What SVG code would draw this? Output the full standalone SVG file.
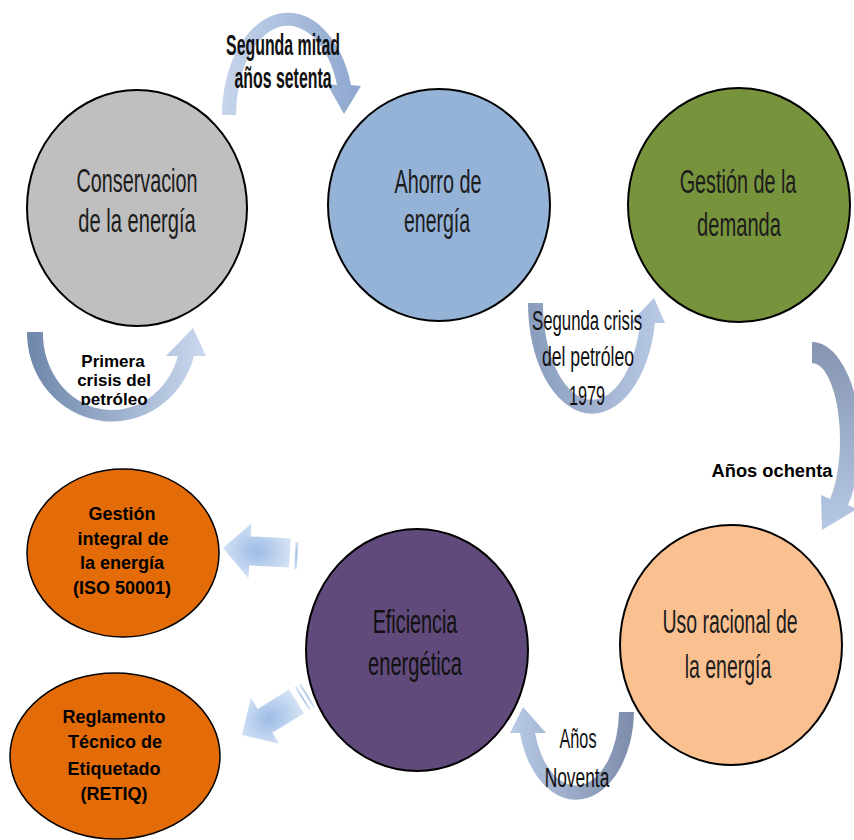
<svg xmlns="http://www.w3.org/2000/svg" width="854" height="840" viewBox="0 0 854 840">
<style>
.node{stroke:#000;stroke-width:2}
.big{font-family:"Liberation Sans",Arial,sans-serif;font-size:33px;fill:#1c1c1c;text-anchor:middle}
.lbl{font-family:"Liberation Sans",Arial,sans-serif;font-size:28px;fill:#111;text-anchor:middle}
.lblb{font-family:"Liberation Sans",Arial,sans-serif;font-size:30px;font-weight:bold;fill:#111;text-anchor:middle}
.sm{font-family:"Liberation Sans",Arial,sans-serif;font-size:17px;font-weight:bold;fill:#000;text-anchor:middle}
.org{font-family:"Liberation Sans",Arial,sans-serif;font-size:18px;font-weight:bold;fill:#000;text-anchor:middle}
.stripe{fill:url(#rg)}
</style>
<defs>
<linearGradient id="g1" gradientUnits="userSpaceOnUse" x1="222" y1="0" x2="362" y2="0"><stop offset="0" stop-color="#C6D5EB"/><stop offset="1" stop-color="#8DA6CE"/></linearGradient>
<linearGradient id="g2" gradientUnits="userSpaceOnUse" x1="27" y1="0" x2="206" y2="0"><stop offset="0" stop-color="#6E86AA"/><stop offset="1" stop-color="#CAD9EF"/></linearGradient>
<linearGradient id="g3" gradientUnits="userSpaceOnUse" x1="528" y1="0" x2="665" y2="0"><stop offset="0" stop-color="#8A9CBC"/><stop offset="1" stop-color="#B8CAE5"/></linearGradient>
<linearGradient id="g4" gradientUnits="userSpaceOnUse" x1="0" y1="342" x2="0" y2="530"><stop offset="0" stop-color="#8595B1"/><stop offset="1" stop-color="#B6C8E3"/></linearGradient>
<linearGradient id="g5" gradientUnits="userSpaceOnUse" x1="634" y1="0" x2="510" y2="0"><stop offset="0" stop-color="#7C8CAA"/><stop offset="1" stop-color="#B8CAE5"/></linearGradient>
<radialGradient id="rg" cx="0.5" cy="0.5" r="0.6"><stop offset="0" stop-color="#9DBCE6"/><stop offset="1" stop-color="#DCE7F6"/></radialGradient>
<clipPath id="clipP"><rect x="60" y="340" width="110" height="65"/></clipPath>
</defs>

<g id="node-conservacion">
<ellipse class="node" cx="137" cy="208" rx="110" ry="118" fill="#BFBFBF"/>
<text class="big" transform="translate(137,192) scale(0.6,1)">Conservacion</text>
<text class="big" transform="translate(137,232) scale(0.61,1)">de la energía</text>
</g>
<g id="node-ahorro">
<ellipse class="node" cx="439" cy="205" rx="111" ry="116" fill="#95B3D7"/>
<text class="big" transform="translate(438,193) scale(0.6,1)">Ahorro de</text>
<text class="big" transform="translate(437,232) scale(0.59,1)">energía</text>
</g>
<g id="node-gestion-demanda">
<ellipse class="node" cx="739" cy="205" rx="111" ry="117" fill="#77933C"/>
<text class="big" transform="translate(738,193) scale(0.6,1)">Gestión de la</text>
<text class="big" transform="translate(739,236) scale(0.61,1)">demanda</text>
</g>
<g id="node-uso-racional">
<ellipse class="node" cx="731" cy="645" rx="111" ry="120" fill="#FAC090"/>
<text class="big" transform="translate(730,633) scale(0.59,1)">Uso racional de</text>
<text class="big" transform="translate(728,678) scale(0.59,1)">la energía</text>
</g>
<g id="node-eficiencia">
<ellipse class="node" cx="417" cy="650" rx="111" ry="121" fill="#604A7B"/>
<text class="big" transform="translate(415,633) scale(0.6,1)" style="fill:#111">Eficiencia</text>
<text class="big" transform="translate(415,675) scale(0.61,1)" style="fill:#111">energética</text>
</g>
<g id="node-gestion-integral">
<ellipse class="node" cx="123" cy="553" rx="96" ry="84" fill="#E36C09" style="stroke-width:1.5"/>
<text class="org" x="122" y="520">Gestión</text>
<text class="org" x="123" y="545">integral de</text>
<text class="org" x="122" y="569">la energía</text>
<text class="org" x="122" y="594">(ISO 50001)</text>
</g>
<g id="node-retiq">
<ellipse class="node" cx="115" cy="756" rx="105" ry="83" fill="#E36C09" style="stroke-width:1.5"/>
<text class="org" x="114" y="723">Reglamento</text>
<text class="org" x="115" y="748">Técnico de</text>
<text class="org" x="114" y="775">Etiquetado</text>
<text class="org" x="114" y="800">(RETIQ)</text>
</g>

<g id="connectors">
<path d="M222,115 A66 103 0 0 1 351,85 L361,86 L344,114 L327,84 L337,85 A52 89 0 0 0 236,115 Z" fill="url(#g1)"/>
<path d="M27,332 A85 89 0 0 0 194,356 L206,356 L193,328 L166,356 L178,356 A69 76 0 0 1 43,332 Z" fill="url(#g2)"/>
<path d="M528,303 A64 110 0 0 0 655,323 L665,323 L654,298 L630,323 L640,323 A49 96 0 0 1 543,303 Z" fill="url(#g3)"/>
<path d="M812,342 A48 98 0 0 1 848,505 L857,509 L822,530 L821,495 L830,499 A28 77 0 0 0 812,363 Z" fill="url(#g4)"/>
<path d="M634,712 A58 90 0 0 1 520,733 L510,733 L523,707 L546,733 L535,733 A43 75 0 0 0 619,712 Z" fill="url(#g5)"/>
<g transform="translate(223,548) rotate(3)">
<path class="stripe" d="M0,0 L27,-26 L27,-13 L67,-13 L67,16 L27,16 L27,29 Z"/>
<rect class="stripe" x="72" y="-10" width="3" height="27"/>
</g>
<g transform="translate(242,735) rotate(-31.6)">
<path class="stripe" d="M0,0 L27,-27 L27,-14 L64,-14 L64,14 L27,14 L27,27 Z"/>
<rect class="stripe" x="70" y="-13" width="2" height="27"/>
<rect class="stripe" x="75" y="-13" width="2" height="27"/>
</g>
<text class="lblb" transform="translate(283,55) scale(0.53,1)">Segunda mitad</text>
<text class="lblb" transform="translate(283,88) scale(0.53,1)">años setenta</text>
<g clip-path="url(#clipP)">
<text class="sm" x="113" y="367">Primera</text>
<text class="sm" x="114" y="386">crisis del</text>
<text class="sm" x="114" y="405">petróleo</text>
</g>
<text class="lbl" transform="translate(587,330) scale(0.6,1)">Segunda crisis</text>
<text class="lbl" transform="translate(588,366) scale(0.63,1)">del petróleo</text>
<text class="lbl" transform="translate(587,405) scale(0.58,1)">1979</text>
<text class="sm" x="772" y="477" style="font-size:18px" textLength="121" lengthAdjust="spacingAndGlyphs">Años ochenta</text>
<text class="lbl" transform="translate(578,748) scale(0.58,1)">Años</text>
<text class="lbl" transform="translate(577,787) scale(0.62,1)">Noventa</text>
</g>
</svg>
